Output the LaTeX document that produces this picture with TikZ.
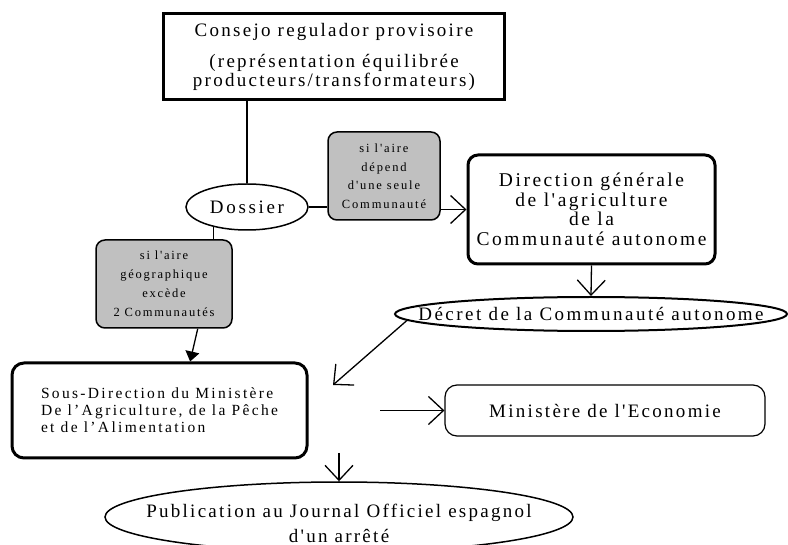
\documentclass[tikz,border=0pt]{standalone}
\usepackage{fontspec}
\setmainfont{Liberation Serif}[LetterSpace=12, Ligatures=TeXOff]
\usetikzlibrary{shapes.geometric,arrows.meta}
\definecolor{boxgray}{RGB}{192,192,192}

\begin{document}
\begin{tikzpicture}[x=1pt, y=-1pt,
    big/.style={font=\fontsize{19}{19.5}\selectfont},
    small/.style={font=\fontsize{12.5}{18.5}\selectfont\addfontfeature{LetterSpace=15}},
    frame/.style={draw, line width=3pt, align=center, big},
    grey box/.style={draw, line width=1.5pt, fill=boxgray, rounded corners=9pt, align=center, inner sep=2pt, small},
    oval/.style={draw, ellipse, inner sep=0pt, big},
    link/.style={line width=1.3pt},
    barb/.style={link, -{Straight Barb[length=15pt,width=28pt]}},
    solid tip/.style={link, -{Triangle[length=10pt,width=14pt]}}]

    \useasboundingbox (0,0) rectangle (788,545);
    \clip (0,0) rectangle (788,545);

    % Consejo regulador
    \node[frame, minimum width=341pt, minimum height=86pt] (consejo) at (334,57)
        {Consejo regulador provisoire\\[11pt](représentation équilibrée\\producteurs/transformateurs)};

    % Dossier
    \node[oval, line width=1.5pt, minimum width=122pt, minimum height=46pt,
          font=\fontsize{19}{20}\selectfont\addfontfeature{LetterSpace=14}] (dossier) at (247,207) {Dossier};

    % one Communaute
    \node[grey box, minimum width=112pt, minimum height=88pt] (aireA) at (384,176)
        {si l'aire\\dépend\\d'une seule\\Communauté};

    % Direction generale
    \node[frame, rounded corners=10pt, minimum width=247pt, minimum height=109pt,
          font=\fontsize{19.5}{19.5}\selectfont\addfontfeature{LetterSpace=13}] (direction) at (591.5,209.5)
        {Direction générale\\de l'agriculture\\de la\\Communauté autonome};

    % more than 2 Communautes
    \node[grey box, minimum width=136pt, minimum height=88pt,
          font=\fontsize{12.5}{19}\selectfont\addfontfeature{LetterSpace=14}] (aireB) at (164,284)
        {si l'aire\\géographique\\excède\\2 Communautés};

    % Decret
    \node[oval, line width=2pt, minimum width=392pt, minimum height=34pt,
          font=\fontsize{19}{20}\selectfont\addfontfeature{LetterSpace=13}] (decret) at (591,314)
        {\makebox[0pt]{Décret de la Communauté autonome}};

    % Sous-Direction
    \node[frame, rounded corners=12pt, minimum width=295pt, minimum height=95pt,
          align=left, font=\fontsize{15.5}{17}\selectfont\addfontfeature{LetterSpace=15}] (sousdir) at (159.5,410.5)
        {Sous-Direction du Ministère\\De l’Agriculture, de la Pêche\\et de l’Alimentation};

    % Ministere de l'Economie
    \node[draw, line width=1.2pt, rounded corners=12pt, minimum width=320pt, minimum height=51pt, big]
        (minist) at (605,410.5) {Ministère de l'Economie};

    % Publication
    \node[oval, line width=1.5pt, minimum width=468pt, minimum height=70pt,
          font=\fontsize{19}{25}\selectfont] (publication) at (339,517)
        {\makebox[0pt]{\raisebox{-12pt}[0pt][0pt]{\begin{tabular}{@{}c@{}}Publication au Journal Officiel espagnol\\d'un arrêté\end{tabular}}}};

    % links
    \draw[link] (dossier.north |- consejo.south) -- (dossier.north);
    \draw[link] (dossier.east) -- (aireA.west |- dossier.east);
    \draw[barb] (aireA.east |- direction.west) -- (direction.west);
    \draw[link] (dossier.211) -- (dossier.211 |- aireB.north);
    \draw[solid tip] (aireB.-53) -- (sousdir.58);
    \draw[barb] (direction.south) -- (decret.north);

    \coordinate (decTip) at (333,385);
    \draw[barb] (decret.182) -- (decTip);

    \coordinate (minTail) at (380,410.5);
    \draw[barb] (minTail) -- (minist.west);

    \coordinate (pubTail) at (339,453);
    \draw[barb] (pubTail) -- (publication.north);
\end{tikzpicture}
\end{document}
